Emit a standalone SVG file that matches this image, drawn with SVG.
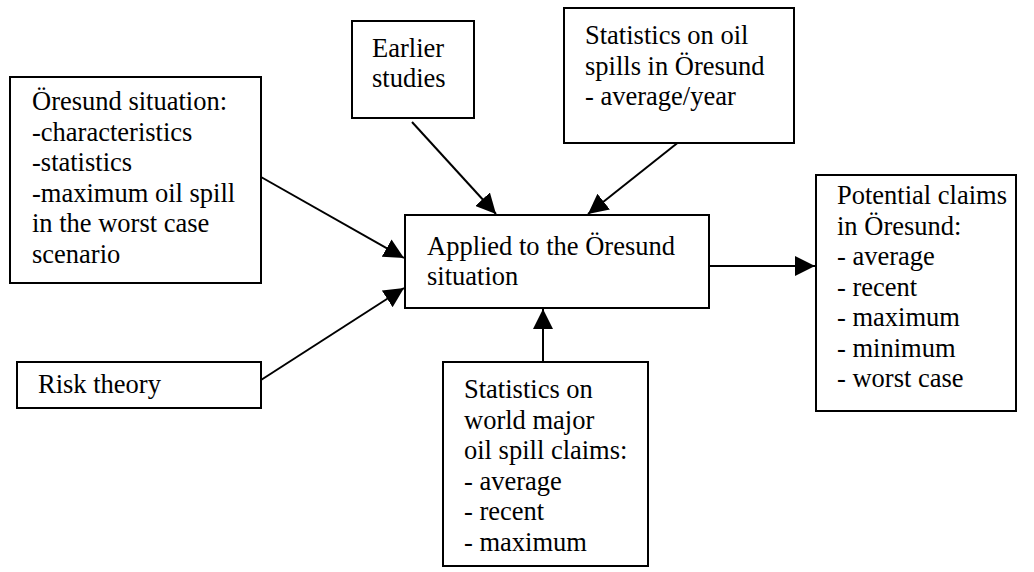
<svg xmlns="http://www.w3.org/2000/svg" width="1034" height="572" viewBox="0 0 1034 572">
<defs>
<style>
.box{fill:#fff;stroke:#000;stroke-width:2}
.t{font-family:'Liberation Serif','Times New Roman','DejaVu Serif',serif;font-size:26.5px;fill:#000}
.c{stroke:#000;stroke-width:2;fill:none}
</style>
<marker id="ah" viewBox="0 0 20 20" refX="20" refY="10" markerWidth="20" markerHeight="20" markerUnits="userSpaceOnUse" orient="auto">
<path d="M0,0 L20,10 L0,20 z" fill="#000"/>
</marker>
</defs>
<rect width="1034" height="572" fill="#fff"/>
<g id="connectors">
<line class="c" x1="261" y1="177" x2="404" y2="258" marker-end="url(#ah)"/>
<line class="c" x1="261" y1="380" x2="404" y2="288" marker-end="url(#ah)"/>
<line class="c" x1="412" y1="122" x2="496" y2="214" marker-end="url(#ah)"/>
<line class="c" x1="685" y1="137" x2="588" y2="214" marker-end="url(#ah)"/>
<line class="c" x1="543" y1="362" x2="543" y2="309" marker-end="url(#ah)"/>
<line class="c" x1="709" y1="266" x2="815" y2="266" marker-end="url(#ah)"/>
</g>
<g id="oresund">
<rect class="box" x="10" y="77" width="251" height="206"/>
<text class="t" font-family="Liberation Serif, serif"><tspan x="32" y="110">Öresund situation:</tspan><tspan x="32" y="140.5">-characteristics</tspan><tspan x="32" y="171">-statistics</tspan><tspan x="32" y="201.5">-maximum oil spill</tspan><tspan x="32" y="232">in the worst case</tspan><tspan x="32" y="262.5">scenario</tspan></text>
</g>
<g id="risk">
<rect class="box" x="17" y="362" width="244" height="46"/>
<text class="t" font-family="Liberation Serif, serif" x="38" y="393">Risk theory</text>
</g>
<g id="earlier">
<rect class="box" x="352" y="21" width="122" height="97"/>
<text class="t" font-family="Liberation Serif, serif"><tspan x="372" y="57">Earlier</tspan><tspan x="372" y="87">studies</tspan></text>
</g>
<g id="statsoil">
<rect class="box" x="564" y="8" width="230" height="135"/>
<text class="t" font-family="Liberation Serif, serif"><tspan x="585" y="44">Statistics on oil</tspan><tspan x="585" y="74.5">spills in Öresund</tspan><tspan x="585" y="105">- average/year</tspan></text>
</g>
<g id="applied">
<rect class="box" x="405" y="215" width="304" height="93"/>
<text class="t" font-family="Liberation Serif, serif"><tspan x="427" y="255">Applied to the Öresund</tspan><tspan x="427" y="285">situation</tspan></text>
</g>
<g id="potential">
<rect class="box" x="816" y="175" width="200" height="236"/>
<text class="t" font-family="Liberation Serif, serif"><tspan x="837" y="204"> Potential claims</tspan><tspan x="837" y="234.5">in Öresund:</tspan><tspan x="837" y="265">- average</tspan><tspan x="837" y="295.5">- recent</tspan><tspan x="837" y="326">- maximum</tspan><tspan x="837" y="356.5">- minimum</tspan><tspan x="837" y="387">- worst case</tspan></text>
</g>
<g id="worldstats">
<rect class="box" x="443" y="362" width="205" height="204"/>
<text class="t" font-family="Liberation Serif, serif"><tspan x="464" y="398">Statistics on</tspan><tspan x="464" y="428.5">world major</tspan><tspan x="464" y="459">oil spill claims:</tspan><tspan x="464" y="489.5">- average</tspan><tspan x="464" y="520">- recent</tspan><tspan x="464" y="550.5">- maximum</tspan></text>
</g>
</svg>
